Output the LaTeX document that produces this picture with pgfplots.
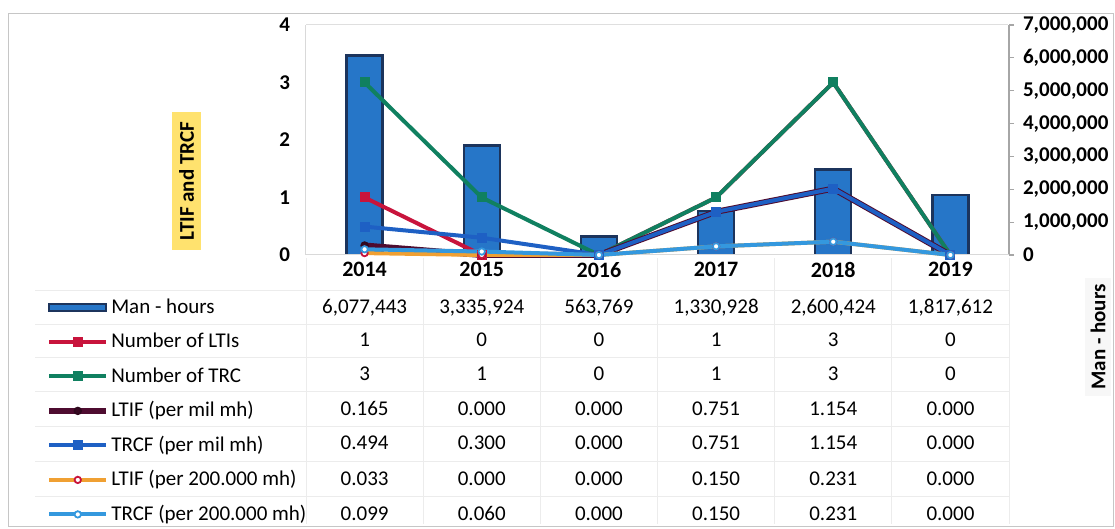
\documentclass[border=0pt]{standalone}
\usepackage{pgfplots}
\pgfplotsset{compat=1.18}
\usepackage{fontspec}
\setmainfont{Carlito}
\definecolor{barblue}{RGB}{38,118,200}
\definecolor{bardark}{RGB}{28,52,92}
\definecolor{cred}{RGB}{200,20,60}
\definecolor{cgreen}{RGB}{16,128,96}
\definecolor{cpurple}{RGB}{78,12,48}
\definecolor{cblue}{RGB}{30,96,196}
\definecolor{corange}{RGB}{240,160,50}
\definecolor{clight}{RGB}{52,152,222}
\definecolor{cyel}{RGB}{255,226,110}
\newcommand{\tfont}{\fontsize{10.5}{12}\selectfont}
\newcommand{\tablerow}[2]{\foreach \v [count=\i from 0] in {#2} \node[font=\tfont, anchor=base, inner sep=0pt] at ({364.6+117.17*\i},{#1+6.6}) {\v};}

\begin{document}
\begin{tikzpicture}
\useasboundingbox (0pt,0pt) rectangle (557.5pt,-264.5pt);
\begin{scope}[x=0.5pt,y=-0.5pt]
  \draw[gray!45, line width=0.5pt] (8,14) rectangle (1113,526);
  \foreach \k in {0,...,6} \draw[gray!15, line width=0.4pt] ({306+117.17*\k},258) -- ({306+117.17*\k},524);
  \foreach \yy in {290,324,357,391,426,461,496} \draw[gray!15, line width=0.4pt] (35,\yy) -- (1010,\yy);
  \draw[gray!25, line width=0.5pt] (306,25) -- (1008,25);
  \node[rotate=90, fill=cyel, font=\tfont\bfseries, inner xsep=5pt, inner ysep=3.5pt] at (186.5,181) {LTIF and TRCF};
  \node[rotate=90, fill=gray!6, font=\tfont\bfseries, inner sep=3pt] at (1098,337) {Man - hours};
\end{scope}

\begin{axis}[
  at={(153pt,-12.5pt)}, anchor=north west,
  width=351.5pt, height=115pt, scale only axis,
  xmin=-0.5, xmax=5.5, ymin=0, ymax=7000000,
  axis x line=none, axis y line*=right,
  y axis line style={gray!70, line width=0.6pt},
  ytick={0,1000000,2000000,3000000,4000000,5000000,6000000,7000000},
  tick align=outside, major tick length=2.5pt,
  tick style={gray!70, line width=0.6pt},
  scaled y ticks=false,
  /pgf/number format/fixed, /pgf/number format/1000 sep={,},
  /pgf/number format/assume math mode=true,
  yticklabel style={font=\tfont\bfseries, xshift=1pt},
]
\addplot[ybar, bar width=18pt, fill=barblue, draw=bardark, line width=1.2pt]
  coordinates {(0,6077443) (1,3335924) (2,563769) (3,1330928) (4,2600424) (5,1817612)};
\end{axis}

\begin{axis}[
  at={(153pt,-12.5pt)}, anchor=north west,
  width=351.5pt, height=115pt, scale only axis,
  xmin=-0.5, xmax=5.5, ymin=0, ymax=4,
  clip=false,
  axis x line*=bottom, axis y line*=left,
  axis line style={gray!30, line width=0.5pt},
  xtick={0,1,2,3,4,5}, xticklabels={2014,2015,2016,2017,2018,2019},
  xticklabel style={font=\fontsize{11}{13}\selectfont\bfseries},
  ytick={0,1,2,3,4},
  yticklabel style={font=\tfont\bfseries, xshift=-4.5pt},
  major tick length=0pt,
  /pgf/number format/assume math mode=true,
  legend cell align=left,
  legend style={at={(axis description cs:-0.370,-0.187)}, anchor=north west,
    draw=none, fill=none, inner sep=0pt, font=\tfont,
    nodes={inner sep=0pt, text height=7.5pt, text depth=1.5pt},
    row sep=8.25pt, column sep=1pt},
  legend image code/.code={\draw[mark repeat=2,mark phase=2,#1] plot coordinates {(0pt,0pt) (14.25pt,0pt) (28.5pt,0pt)};},
]
\addlegendimage{legend image code/.code={\fill[barblue, draw=bardark, line width=0.8pt] (0pt,-1.75pt) rectangle (28.5pt,1.75pt);}}
\addlegendentry{Man - hours}
\addplot[color=cred, line width=2pt, mark=square*, mark size=1.5pt]
  coordinates {(0,1) (1,0) (2,0) (3,1) (4,3) (5,0)};
\addlegendentry{Number of LTIs}
\addplot[color=cgreen, line width=2pt, mark=square*, mark size=1.5pt]
  coordinates {(0,3) (1,1) (2,0) (3,1) (4,3) (5,0)};
\addlegendentry{Number of TRC}
\addplot[color=cpurple, line width=3pt, mark=*, mark size=1.7pt, mark options={line width=0.8pt, draw=cpurple!60!black, fill=cpurple!70!black}]
  coordinates {(0,0.165) (1,0) (2,0) (3,0.751) (4,1.154) (5,0)};
\addlegendentry{LTIF (per mil mh)}
\addplot[color=cblue, line width=2pt, mark=square*, mark size=1.5pt]
  coordinates {(0,0.494) (1,0.300) (2,0) (3,0.751) (4,1.154) (5,0)};
\addlegendentry{TRCF (per mil mh)}
\addplot[color=corange, line width=2pt, mark=*, mark size=1.6pt, mark options={draw=cred, fill=white, line width=0.9pt}]
  coordinates {(0,0.033) (1,0) (2,0) (3,0.150) (4,0.231) (5,0)};
\addlegendentry{LTIF (per 200.000 mh)}
\addplot[color=clight, line width=2pt, mark=*, mark size=1.6pt, mark options={draw=clight, fill=white, line width=0.9pt}]
  coordinates {(0,0.099) (1,0.060) (2,0) (3,0.150) (4,0.231) (5,0)};
\addlegendentry{TRCF (per 200.000 mh)}
\end{axis}

\begin{scope}[x=0.5pt,y=-0.5pt]
  \tablerow{307}{{6,077,443},{3,335,924},{563,769},{1,330,928},{2,600,424},{1,817,612}}
  \tablerow{340}{1,0,0,1,3,0}
  \tablerow{374}{3,1,0,1,3,0}
  \tablerow{409}{0.165,0.000,0.000,0.751,1.154,0.000}
  \tablerow{443}{0.494,0.300,0.000,0.751,1.154,0.000}
  \tablerow{479}{0.033,0.000,0.000,0.150,0.231,0.000}
  \tablerow{514}{0.099,0.060,0.000,0.150,0.231,0.000}
\end{scope}
\end{tikzpicture}
\end{document}
